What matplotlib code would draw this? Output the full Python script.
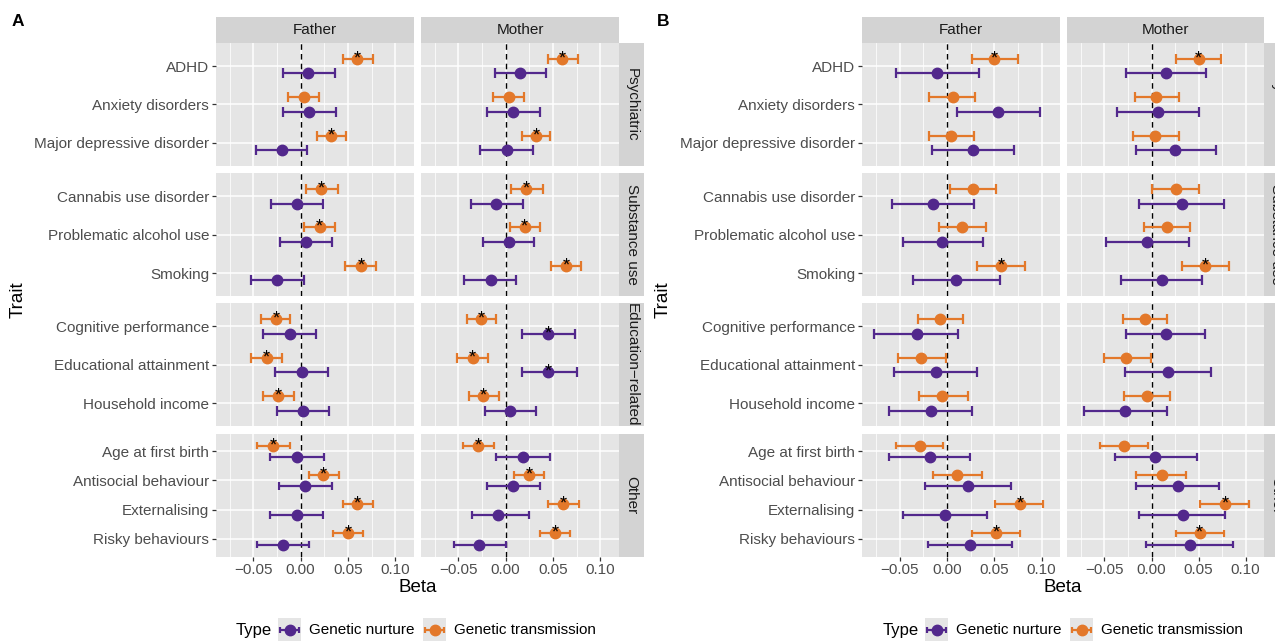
import matplotlib
matplotlib.use("Agg")
import matplotlib.pyplot as plt

plt.rcParams['font.family'] = ['Liberation Sans', 'DejaVu Sans']

# ---- data ----
traits = ["ADHD", "Anxiety disorders", "Major depressive disorder",
          "Cannabis use disorder", "Problematic alcohol use", "Smoking",
          "Cognitive performance", "Educational attainment", "Household income",
          "Age at first birth", "Antisocial behaviour", "Externalising",
          "Risky behaviours"]
trait_group = ["Psychiatric"] * 3 + ["Substance use"] * 3 + \
              ["Education\u2212related"] * 3 + ["Other"] * 4
groups = ["Psychiatric", "Substance use", "Education\u2212related", "Other"]
parents = ["Father", "Mother"]
types = ["Genetic nurture", "Genetic transmission"]

# panel A
a_father_gn = [0.008, 0.009, -0.020, -0.004, 0.006, -0.025, -0.011, 0.001, 0.002, -0.004, 0.005, -0.004, -0.019]
a_father_gn_lo = [-0.019, -0.019, -0.047, -0.031, -0.022, -0.052, -0.040, -0.027, -0.025, -0.032, -0.023, -0.032, -0.046]
a_father_gn_hi = [0.036, 0.037, 0.007, 0.024, 0.033, 0.003, 0.016, 0.029, 0.030, 0.025, 0.033, 0.024, 0.009]
a_father_gt = [0.060, 0.003, 0.032, 0.022, 0.020, 0.064, -0.026, -0.036, -0.024, -0.029, 0.024, 0.060, 0.050]
a_father_gt_lo = [0.045, -0.013, 0.017, 0.006, 0.004, 0.047, -0.042, -0.053, -0.040, -0.046, 0.009, 0.045, 0.034]
a_father_gt_hi = [0.076, 0.019, 0.048, 0.039, 0.036, 0.080, -0.011, -0.020, -0.007, -0.011, 0.041, 0.076, 0.066]
a_mother_gn = [0.015, 0.008, 0.001, -0.010, 0.004, -0.016, 0.045, 0.045, 0.005, 0.018, 0.008, -0.008, -0.028]
a_mother_gn_lo = [-0.011, -0.020, -0.027, -0.037, -0.024, -0.044, 0.017, 0.017, -0.022, -0.010, -0.020, -0.036, -0.055]
a_mother_gn_hi = [0.043, 0.036, 0.029, 0.018, 0.030, 0.011, 0.073, 0.075, 0.032, 0.047, 0.036, 0.025, 0.000]
a_mother_gt = [0.060, 0.003, 0.032, 0.022, 0.020, 0.064, -0.026, -0.035, -0.024, -0.029, 0.025, 0.061, 0.052]
a_mother_gt_lo = [0.045, -0.013, 0.017, 0.006, 0.005, 0.048, -0.041, -0.051, -0.039, -0.045, 0.009, 0.045, 0.036]
a_mother_gt_hi = [0.076, 0.019, 0.047, 0.039, 0.036, 0.080, -0.010, -0.019, -0.007, -0.012, 0.041, 0.077, 0.068]
a_stars_gt = ["ADHD", "Major depressive disorder", "Cannabis use disorder",
              "Problematic alcohol use", "Smoking", "Cognitive performance",
              "Educational attainment", "Household income", "Age at first birth",
              "Antisocial behaviour", "Externalising", "Risky behaviours"]
a_stars_mother_gn = ["Cognitive performance", "Educational attainment"]

# panel B
b_father_gn = [-0.010, 0.054, 0.028, -0.015, -0.005, 0.010, -0.032, -0.012, -0.017, -0.018, 0.022, -0.002, 0.024]
b_father_gn_lo = [-0.054, 0.011, -0.016, -0.058, -0.046, -0.036, -0.077, -0.056, -0.061, -0.061, -0.023, -0.046, -0.020]
b_father_gn_hi = [0.034, 0.098, 0.071, 0.029, 0.038, 0.056, 0.012, 0.032, 0.027, 0.024, 0.068, 0.042, 0.069]
b_father_gt = [0.050, 0.006, 0.004, 0.028, 0.016, 0.057, -0.007, -0.027, -0.005, -0.029, 0.011, 0.077, 0.052]
b_father_gt_lo = [0.027, -0.019, -0.019, 0.003, -0.008, 0.032, -0.031, -0.052, -0.030, -0.054, -0.015, 0.051, 0.027]
b_father_gt_hi = [0.075, 0.030, 0.029, 0.052, 0.041, 0.082, 0.017, -0.001, 0.022, -0.004, 0.037, 0.102, 0.077]
b_mother_gn = [0.015, 0.007, 0.025, 0.032, -0.005, 0.011, 0.015, 0.018, -0.028, 0.004, 0.028, 0.033, 0.041]
b_mother_gn_lo = [-0.027, -0.037, -0.017, -0.013, -0.048, -0.032, -0.027, -0.028, -0.072, -0.039, -0.017, -0.013, -0.006]
b_mother_gn_hi = [0.058, 0.050, 0.068, 0.077, 0.040, 0.054, 0.057, 0.063, 0.016, 0.048, 0.072, 0.078, 0.087]
b_mother_gt = [0.050, 0.005, 0.004, 0.026, 0.016, 0.057, -0.007, -0.027, -0.005, -0.029, 0.011, 0.078, 0.051]
b_mother_gt_lo = [0.026, -0.018, -0.020, 0.001, -0.008, 0.032, -0.030, -0.051, -0.029, -0.055, -0.016, 0.052, 0.026]
b_mother_gt_hi = [0.074, 0.029, 0.029, 0.050, 0.041, 0.082, 0.016, -0.001, 0.020, -0.004, 0.037, 0.104, 0.077]
b_stars_gt = ["ADHD", "Smoking", "Externalising", "Risky behaviours"]

xticks = [-0.05, 0.0, 0.05, 0.10]
xtick_labels = ["\u22120.05", "0.00", "0.05", "0.10"]

# ---- style ----
W, H = 1275, 641
purple = "#52288C"
orange = "#E3782A"
panel_bg = "#E5E5E5"
strip_bg = "#D3D3D3"
type_colors = {"Genetic nurture": purple, "Genetic transmission": orange}
type_offset = {"Genetic nurture": -0.19, "Genetic transmission": 0.19}

fig = plt.figure(figsize=(W / 100, H / 100), dpi=100)


def box(x0, y0, x1, y1):
    # pixel box (top-left origin) -> figure fraction
    return [x0 / W, 1 - y1 / H, (x1 - x0) / W, (y1 - y0) / H]


row_top = 43
row_h = 122.9
row_gap = 7.3


def draw_panel(tag, tag_x, col_x, xlim, data, stars, legend_x):
    fig.text(tag_x / W, 1 - 22 / H, tag, fontsize=12.5, fontweight='bold',
             ha='left', va='center')
    for ci, parent in enumerate(parents):
        x0, x1 = col_x[ci]
        sax = fig.add_axes(box(x0, 17, x1, row_top))
        sax.set_facecolor(strip_bg)
        sax.set_xticks([]); sax.set_yticks([])
        for s in sax.spines.values():
            s.set_visible(False)
        sax.text(0.5, 0.5, parent, ha='center', va='center', fontsize=11,
                 color='#1A1A1A', transform=sax.transAxes)
        for ri, g in enumerate(groups):
            top = row_top + ri * (row_h + row_gap)
            ax = fig.add_axes(box(x0, top, x1, top + row_h))
            ax.set_facecolor(panel_bg)
            names = [t for t, tg in zip(traits, trait_group) if tg == g]
            n = len(names)
            ypos = {t: n - 1 - i for i, t in enumerate(names)}
            ax.set_xlim(*xlim)
            ax.set_ylim(-0.6, n - 1 + 0.6)
            ax.set_xticks(xticks)
            ax.set_xticks([-0.075, -0.025, 0.025, 0.075], minor=True)
            ax.set_yticks([ypos[t] for t in names])
            ax.grid(which='major', color='white', lw=1.1)
            ax.grid(which='minor', axis='x', color='white', lw=0.55)
            ax.set_axisbelow(True)
            for s in ax.spines.values():
                s.set_visible(False)
            ax.tick_params(which='minor', length=0)
            ax.tick_params(which='major', length=3, color='#333333', width=0.9,
                           labelsize=11, labelcolor='#4D4D4D', pad=2)
            if ci == 0:
                ax.set_yticklabels(names)
            else:
                ax.set_yticklabels([])
                ax.tick_params(axis='y', length=0)
            if ri == len(groups) - 1:
                ax.set_xticklabels(xtick_labels)
            else:
                ax.set_xticklabels([])
                ax.tick_params(axis='x', length=0)
            ax.axvline(0, color='black', ls=(0, (4, 3)), lw=1.0, zorder=2)

            for ty in types:
                est, lo, hi = data[(parent, ty)]
                col = type_colors[ty]
                for t in names:
                    k = traits.index(t)
                    y = ypos[t] + type_offset[ty]
                    ax.hlines(y, lo[k], hi[k], color=col, lw=1.6, zorder=3)
                    ax.vlines([lo[k], hi[k]], y - 0.13, y + 0.13, color=col,
                              lw=1.6, zorder=3)
                    ax.plot(est[k], y, 'o', color=col, ms=7.5, zorder=4)
                    if t in stars.get((parent, ty), []):
                        ax.annotate('*', (est[k], y), xytext=(0, 0),
                                    textcoords='offset points', ha='center',
                                    va='center', fontsize=13, color='black',
                                    zorder=5)
            if ci == 1:
                rax = fig.add_axes(box(x1, top, x1 + 25, top + row_h))
                rax.set_facecolor(strip_bg)
                rax.set_xticks([]); rax.set_yticks([])
                for s in rax.spines.values():
                    s.set_visible(False)
                rax.text(0.5, 0.5, g, rotation=-90, ha='center', va='center',
                         fontsize=11, color='#1A1A1A', transform=rax.transAxes)

    xc = (col_x[0][0] + col_x[1][1]) / 2
    fig.text(xc / W, 1 - 588 / H, "Beta", ha='center', va='center', fontsize=13.5)
    fig.text((tag_x + 6) / W, 1 - 300 / H, "Trait", ha='center', va='center',
             rotation=90, fontsize=13.5)

    # legend
    ly = 630
    fig.text(legend_x / W, 1 - ly / H, "Type", ha='left', va='center', fontsize=12)
    kx = legend_x + 42
    for ty in types:
        kax = fig.add_axes(box(kx, ly - 12, kx + 23, ly + 12))
        kax.set_facecolor(panel_bg)
        kax.set_xlim(0, 1); kax.set_ylim(0, 1)
        kax.set_xticks([]); kax.set_yticks([])
        for s in kax.spines.values():
            s.set_visible(False)
        c = type_colors[ty]
        kax.hlines(0.5, 0.08, 0.92, color=c, lw=1.6)
        kax.vlines([0.08, 0.92], 0.38, 0.62, color=c, lw=1.6)
        kax.plot(0.5, 0.5, 'o', color=c, ms=7.5)
        fig.text((kx + 31) / W, 1 - ly / H, ty, ha='left', va='center',
                 fontsize=11)
        kx = kx + 31 + (110 if ty == "Genetic nurture" else 0) + 4


data_a = {
    ("Father", "Genetic nurture"): (a_father_gn, a_father_gn_lo, a_father_gn_hi),
    ("Father", "Genetic transmission"): (a_father_gt, a_father_gt_lo, a_father_gt_hi),
    ("Mother", "Genetic nurture"): (a_mother_gn, a_mother_gn_lo, a_mother_gn_hi),
    ("Mother", "Genetic transmission"): (a_mother_gt, a_mother_gt_lo, a_mother_gt_hi),
}
stars_a = {
    ("Father", "Genetic transmission"): a_stars_gt,
    ("Mother", "Genetic transmission"): a_stars_gt,
    ("Mother", "Genetic nurture"): a_stars_mother_gn,
}
data_b = {
    ("Father", "Genetic nurture"): (b_father_gn, b_father_gn_lo, b_father_gn_hi),
    ("Father", "Genetic transmission"): (b_father_gt, b_father_gt_lo, b_father_gt_hi),
    ("Mother", "Genetic nurture"): (b_mother_gn, b_mother_gn_lo, b_mother_gn_hi),
    ("Mother", "Genetic transmission"): (b_mother_gt, b_mother_gt_lo, b_mother_gt_hi),
}
stars_b = {
    ("Father", "Genetic transmission"): b_stars_gt,
    ("Mother", "Genetic transmission"): b_stars_gt,
}

draw_panel("A", 12, [(216, 414), (421, 619)], (-0.0895, 0.1198), data_a, stars_a, 236)
draw_panel("B", 657, [(862, 1060), (1067, 1264)], (-0.0898, 0.1195), data_b, stars_b, 883)

fig.savefig("out.png", dpi=100)
